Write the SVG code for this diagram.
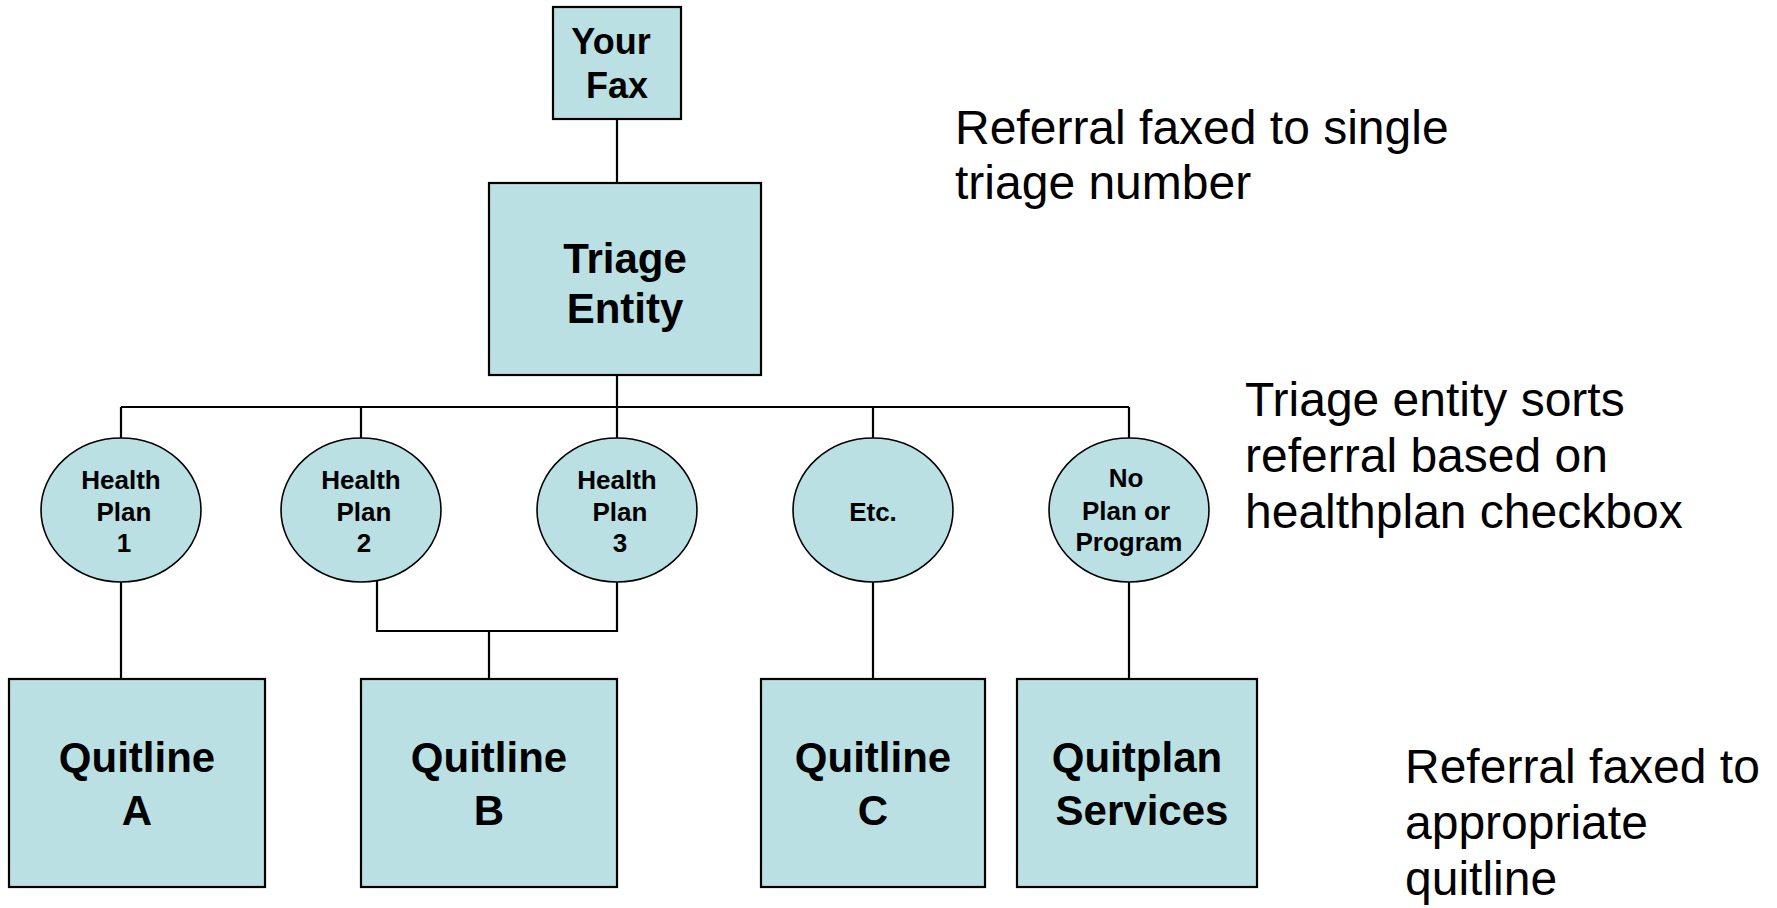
<svg xmlns="http://www.w3.org/2000/svg" width="1777" height="908" viewBox="0 0 1777 908">
<style>
.box{fill:#BBE0E3;stroke:#000;stroke-width:2.2}
.oval{fill:#BBE0E3;stroke:#000;stroke-width:1.6}
.conn line,.conn polyline{stroke:#000;stroke-width:2.2;fill:none}
.b{font-family:"Liberation Sans",Arial,sans-serif;font-weight:bold;fill:#000;text-anchor:middle}
.big{font-size:42px}
.fax{font-size:36px}
.sm{font-size:26px}
.note{font-family:"Liberation Sans",Arial,sans-serif;font-size:48px;fill:#000}
</style>
<rect width="1777" height="908" fill="#fff"/>
<g class="conn" id="connectors">
<line x1="617" y1="119" x2="617" y2="183"/>
<line x1="617" y1="375" x2="617" y2="407"/>
<line x1="121" y1="407" x2="1129" y2="407"/>
<line x1="121" y1="407" x2="121" y2="438"/>
<line x1="361" y1="407" x2="361" y2="438"/>
<line x1="617" y1="407" x2="617" y2="438"/>
<line x1="873" y1="407" x2="873" y2="438"/>
<line x1="1129" y1="407" x2="1129" y2="438"/>
<line x1="121" y1="582" x2="121" y2="679"/>
<polyline points="377,580 377,631 617,631 617,582"/>
<line x1="489" y1="631" x2="489" y2="679"/>
<line x1="873" y1="582" x2="873" y2="679"/>
<line x1="1129" y1="582" x2="1129" y2="679"/>
</g>
<g id="your-fax">
<rect class="box" x="553" y="7" width="128" height="112"/>
<text class="b fax" x="611" y="54">Your</text>
<text class="b fax" x="617" y="98">Fax</text>
</g>
<g id="triage-entity">
<rect class="box" x="489" y="183" width="272" height="192"/>
<text class="b big" x="625" y="273">Triage</text>
<text class="b big" x="625" y="323">Entity</text>
</g>
<g id="health-plan-1">
<ellipse class="oval" cx="121" cy="510" rx="80" ry="72"/>
<text class="b sm" x="121" y="489">Health</text>
<text class="b sm" x="124" y="521">Plan</text>
<text class="b sm" x="124" y="552">1</text>
</g>
<g id="health-plan-2">
<ellipse class="oval" cx="361" cy="510" rx="80" ry="72"/>
<text class="b sm" x="361" y="489">Health</text>
<text class="b sm" x="364" y="521">Plan</text>
<text class="b sm" x="364" y="552">2</text>
</g>
<g id="health-plan-3">
<ellipse class="oval" cx="617" cy="510" rx="80" ry="72"/>
<text class="b sm" x="617" y="489">Health</text>
<text class="b sm" x="620" y="521">Plan</text>
<text class="b sm" x="620" y="552">3</text>
</g>
<g id="etc">
<ellipse class="oval" cx="873" cy="510" rx="80" ry="72"/>
<text class="b sm" x="873" y="521">Etc.</text>
</g>
<g id="no-plan">
<ellipse class="oval" cx="1129" cy="510" rx="80" ry="72"/>
<text class="b sm" x="1126" y="487">No</text>
<text class="b sm" x="1126" y="520">Plan or</text>
<text class="b sm" x="1129" y="551">Program</text>
</g>
<g id="quitline-a">
<rect class="box" x="9" y="679" width="256" height="208"/>
<text class="b big" x="137" y="772">Quitline</text>
<text class="b big" x="137" y="825">A</text>
</g>
<g id="quitline-b">
<rect class="box" x="361" y="679" width="256" height="208"/>
<text class="b big" x="489" y="772">Quitline</text>
<text class="b big" x="489" y="825">B</text>
</g>
<g id="quitline-c">
<rect class="box" x="761" y="679" width="224" height="208"/>
<text class="b big" x="873" y="772">Quitline</text>
<text class="b big" x="873" y="825">C</text>
</g>
<g id="quitplan-services">
<rect class="box" x="1017" y="679" width="240" height="208"/>
<text class="b big" x="1137" y="772">Quitplan</text>
<text class="b big" x="1142" y="825">Services</text>
</g>
<g id="notes">
<text class="note" x="955" y="144">Referral faxed to single</text>
<text class="note" x="955" y="199">triage number</text>
<text class="note" x="1245" y="416">Triage entity sorts</text>
<text class="note" x="1245" y="472">referral based on</text>
<text class="note" x="1245" y="528">healthplan checkbox</text>
<text class="note" x="1405" y="783">Referral faxed to</text>
<text class="note" x="1405" y="839">appropriate</text>
<text class="note" x="1405" y="895">quitline</text>
</g>
</svg>
